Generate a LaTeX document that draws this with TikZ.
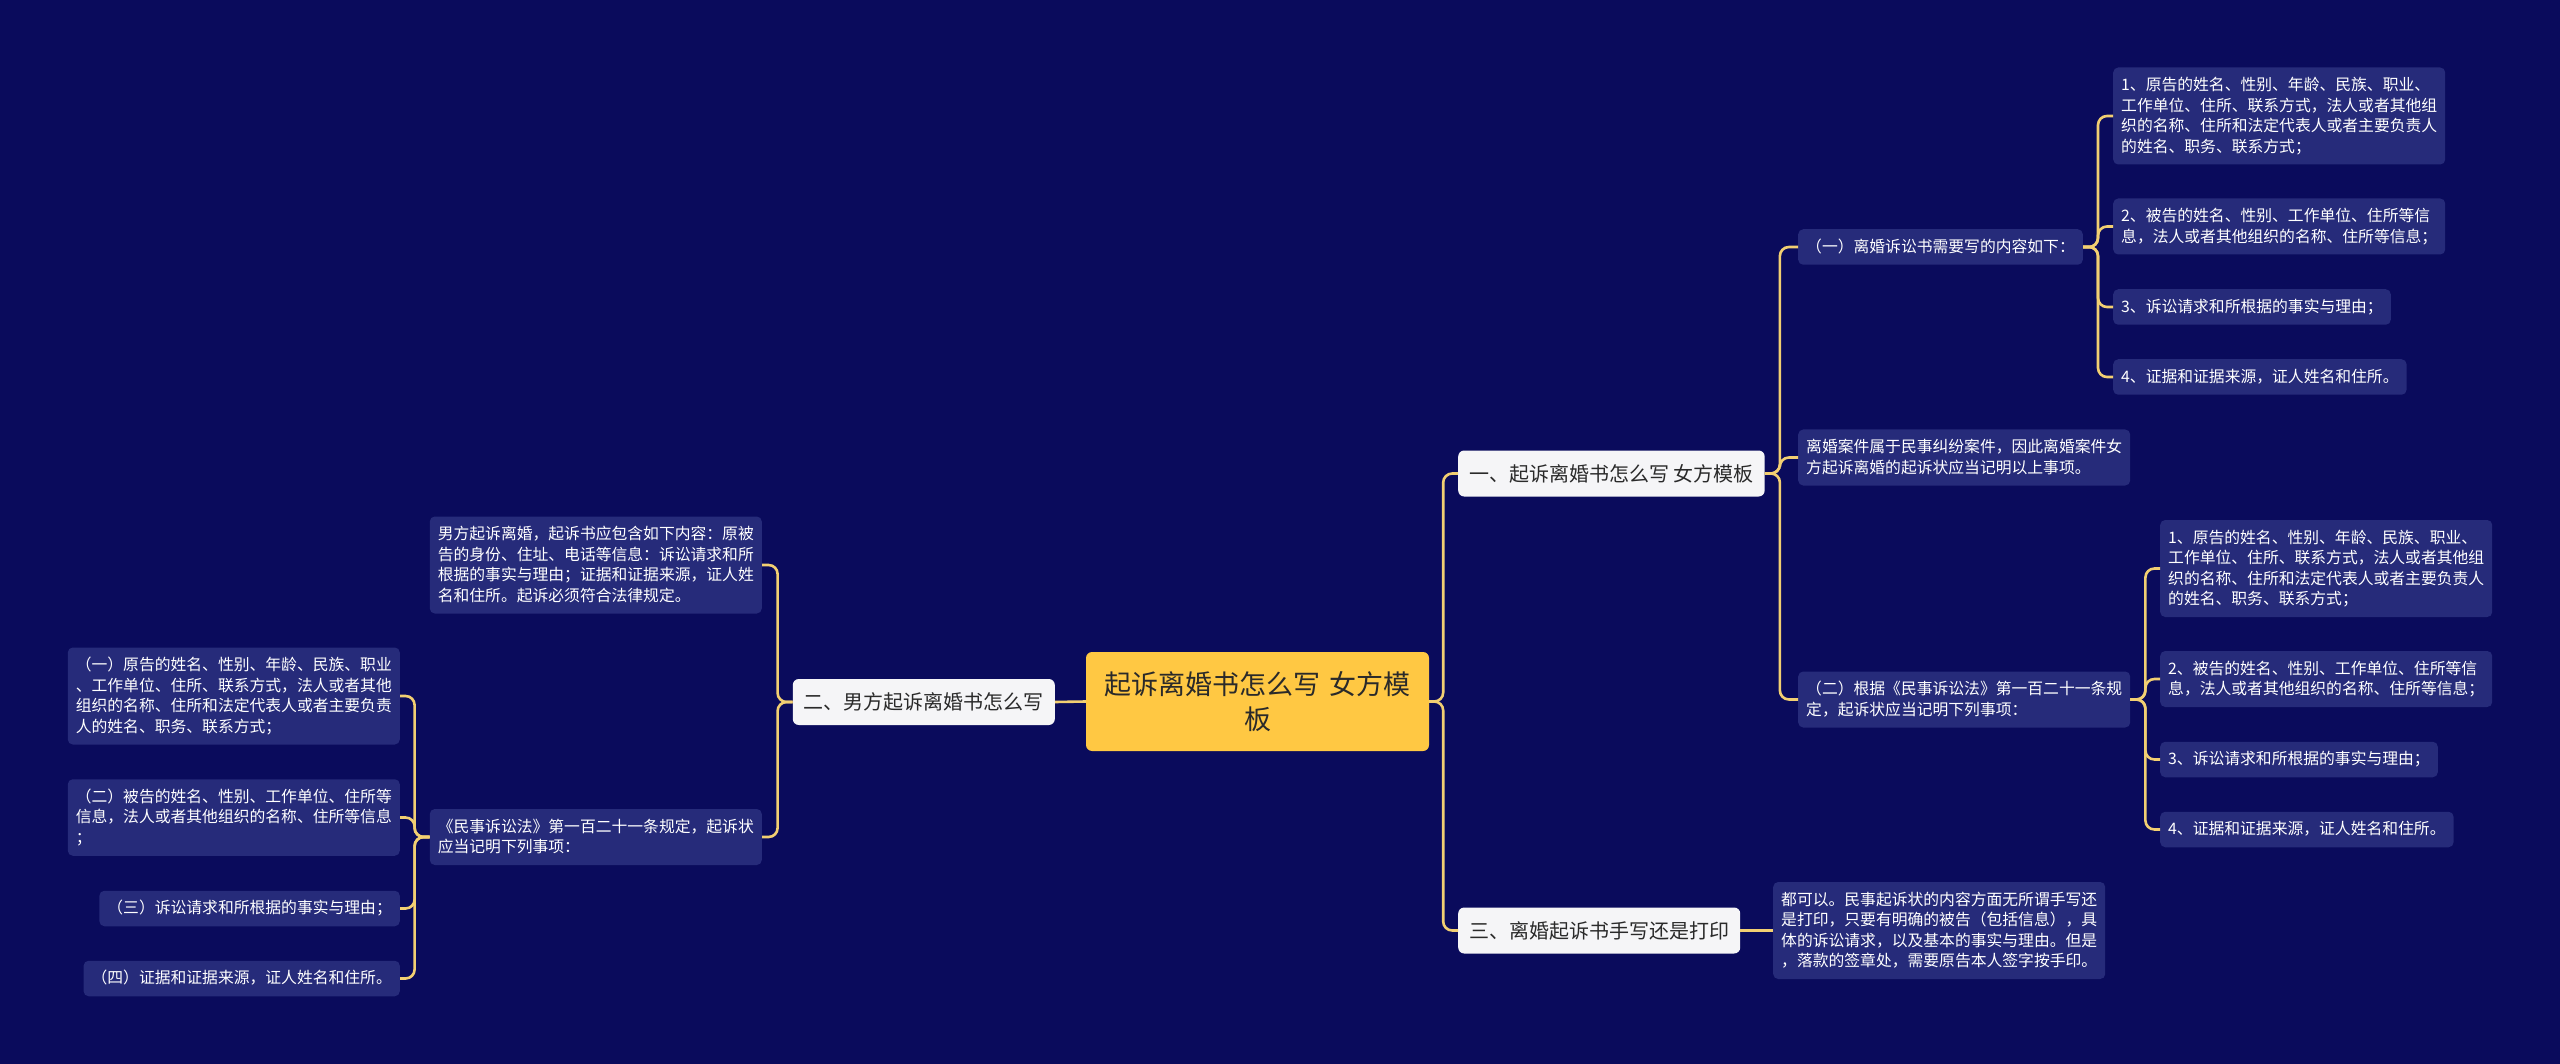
\documentclass[tikz,border=0pt]{standalone}
\usepackage{fontspec}
\setmainfont{Noto Sans CJK SC}
\definecolor{bgc}{HTML}{0A0B5C}
\definecolor{leafc}{HTML}{262B7A}
\definecolor{linec}{HTML}{F2CF72}
\definecolor{rootc}{HTML}{FFC843}
\definecolor{branchc}{HTML}{F5F5F7}
\definecolor{darktext}{HTML}{2A2A2A}
\newcommand{\leafstrut}{\rule[-3.5pt]{0pt}{17.7pt}}
\tikzset{
  x=1pt, y=-1pt,
  leaf/.style={fill=leafc, rounded corners=5pt, text=white,
    font=\fontsize{15.8}{20.5}\selectfont, inner xsep=8pt, inner ysep=8.9pt,
    execute at begin node=\leafstrut, execute at end node=\leafstrut},
  wide/.style={text width=316pt, align=left},
  branch/.style={fill=branchc, rounded corners=6pt, text=darktext,
    font=\fontsize{20}{24}\selectfont, minimum height=46pt, inner xsep=11pt, inner ysep=0pt},
  root/.style={fill=rootc, rounded corners=6pt, text=darktext,
    font=\fontsize{27}{35}\selectfont, minimum height=99pt, text width=311pt,
    align=center, inner xsep=16pt, inner ysep=0pt},
  conn/.style={draw=linec, line width=2.6pt, rounded corners=9pt},
}
\begin{document}
\begin{tikzpicture}
\fill[bgc] (0,0) rectangle (2560,1064);
\useasboundingbox (0,0) rectangle (2560,1064);

% root
\node[root] (root) at (1257.5,701.5) {起诉离婚书怎么写 女方模\\板};

% right branches
\node[branch, anchor=west] (b1) at (1458,473.5) {一、起诉离婚书怎么写 女方模板};
\node[branch, anchor=west] (b3) at (1458,930.5) {三、离婚起诉书手写还是打印};

% left branch
\node[branch, anchor=east] (b2) at (1055,702) {二、男方起诉离婚书怎么写};

% b1 children
\node[leaf, anchor=west] (c1) at (1798,247) {（一）离婚诉讼书需要写的内容如下：};
\node[leaf, wide, anchor=west] (c2) at (1798,457.5) {离婚案件属于民事纠纷案件，因此离婚案件女\\方起诉离婚的起诉状应当记明以上事项。};
\node[leaf, wide, anchor=west] (c3) at (1798,699.5) {（二）根据《民事诉讼法》第一百二十一条规\\定，起诉状应当记明下列事项：};

% c1 children
\node[leaf, wide, anchor=west] (d1) at (2113,116) {1、原告的姓名、性别、年龄、民族、职业、\\工作单位、住所、联系方式，法人或者其他组\\织的名称、住所和法定代表人或者主要负责人\\的姓名、职务、联系方式；};
\node[leaf, wide, anchor=west] (d2) at (2113,226.5) {2、被告的姓名、性别、工作单位、住所等信\\息，法人或者其他组织的名称、住所等信息；};
\node[leaf, anchor=west] (d3) at (2113,307) {3、诉讼请求和所根据的事实与理由；};
\node[leaf, anchor=west] (d4) at (2113,377) {4、证据和证据来源，证人姓名和住所。};

% c3 children
\node[leaf, wide, anchor=west] (e1) at (2160,568.5) {1、原告的姓名、性别、年龄、民族、职业、\\工作单位、住所、联系方式，法人或者其他组\\织的名称、住所和法定代表人或者主要负责人\\的姓名、职务、联系方式；};
\node[leaf, wide, anchor=west] (e2) at (2160,679) {2、被告的姓名、性别、工作单位、住所等信\\息，法人或者其他组织的名称、住所等信息；};
\node[leaf, anchor=west] (e3) at (2160,759.5) {3、诉讼请求和所根据的事实与理由；};
\node[leaf, anchor=west] (e4) at (2160,829.5) {4、证据和证据来源，证人姓名和住所。};

% b3 child
\node[leaf, wide, anchor=west] (g1) at (1773,930.5) {都可以。民事起诉状的内容方面无所谓手写还\\是打印，只要有明确的被告（包括信息），具\\体的诉讼请求，以及基本的事实与理由。但是\\，落款的签章处，需要原告本人签字按手印。};

% b2 children
\node[leaf, wide, anchor=east] (l1) at (762,565) {男方起诉离婚，起诉书应包含如下内容：原被\\告的身份、住址、电话等信息：诉讼请求和所\\根据的事实与理由；证据和证据来源，证人姓\\名和住所。起诉必须符合法律规定。};
\node[leaf, wide, anchor=east] (l2) at (762,837) {《民事诉讼法》第一百二十一条规定，起诉状\\应当记明下列事项：};

% l2 children
\node[leaf, wide, anchor=east] (f1) at (400,696) {（一）原告的姓名、性别、年龄、民族、职业\\、工作单位、住所、联系方式，法人或者其他\\组织的名称、住所和法定代表人或者主要负责\\人的姓名、职务、联系方式；};
\node[leaf, wide, anchor=east] (f2) at (400,817.5) {（二）被告的姓名、性别、工作单位、住所等\\信息，法人或者其他组织的名称、住所等信息\\；};
\node[leaf, anchor=east] (f3) at (400,908.5) {（三）诉讼请求和所根据的事实与理由；};
\node[leaf, anchor=east] (f4) at (400,978.5) {（四）证据和证据来源，证人姓名和住所。};

% connectors
\draw[conn] (root.west) -- (b2.east);
\foreach \c in {b1,b3} \draw[conn] (root.east) -- ++(14,0) |- (\c.west);
\foreach \c in {c1,c2,c3} \draw[conn] (b1.east) -- ++(15,0) |- (\c.west);
\foreach \c in {d1,d2,d3,d4} \draw[conn] (c1.east) -- ++(15,0) |- (\c.west);
\foreach \c in {e1,e2,e3,e4} \draw[conn] (c3.east) -- ++(15,0) |- (\c.west);
\draw[conn] (b3.east) -- (g1.west);
\foreach \c in {l1,l2} \draw[conn] (b2.west) -- ++(-15,0) |- (\c.east);
\foreach \c in {f1,f2,f3,f4} \draw[conn] (l2.west) -- ++(-15,0) |- (\c.east);
\end{tikzpicture}
\end{document}
